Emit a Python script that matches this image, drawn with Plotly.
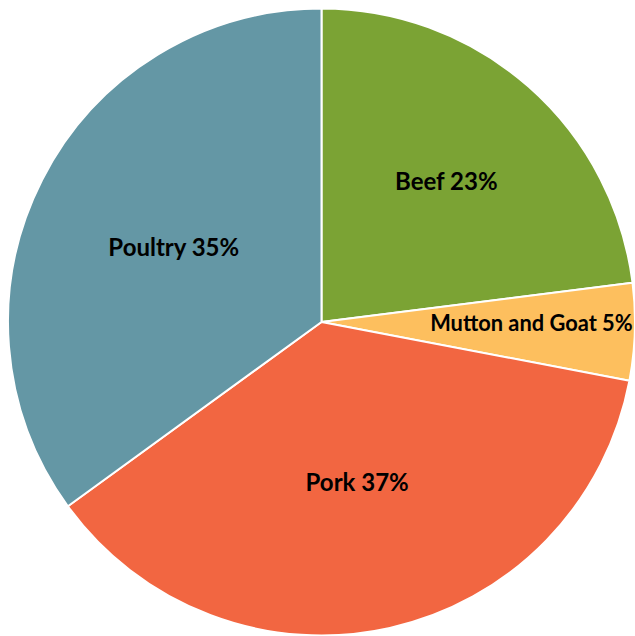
import plotly.graph_objects as go

labels = ["Beef", "Mutton and Goat", "Pork", "Poultry"]
values = [23, 5, 37, 35]
colors = ["#7BA334", "#FDBF5E", "#F26641", "#6497A5"]

fig = go.Figure(go.Pie(
    labels=labels,
    values=values,
    sort=False,
    direction="clockwise",
    rotation=0,
    marker=dict(colors=colors, line=dict(color="white", width=2)),
    texttemplate="<b>%{label} %{percent:.0%}</b>",
    textinfo="text",
    textposition="inside",
    insidetextorientation="horizontal",
    textfont=dict(family="Lato, sans-serif", size=24, color="black"),
    showlegend=False,
    hoverinfo="label+percent",
))
fig.update_layout(
    width=635, height=636,
    margin=dict(l=8, r=0, t=8, b=0),
    paper_bgcolor="white",
    plot_bgcolor="white",
)
fig.write_html(
    "out.html",
    config={"displayModeBar": False},
    post_script="document.body.style.margin='0';document.body.style.overflow='hidden';",
)
